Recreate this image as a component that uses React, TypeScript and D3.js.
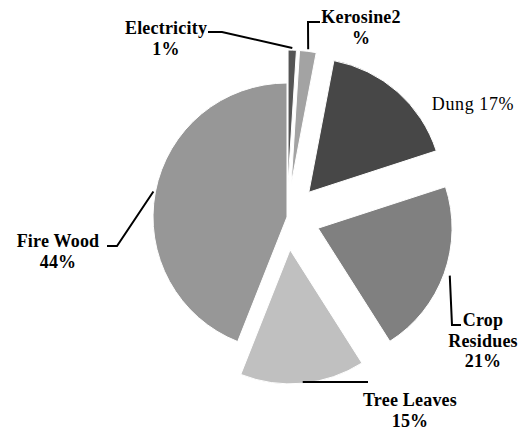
import React, { useEffect, useRef } from "react";
import * as d3 from "d3";

const categories = ["Electricity", "Kerosine", "Dung", "Crop Residues", "Tree Leaves", "Fire Wood"];
const values = [1, 2, 17, 21, 15, 44];
const colors = ["#555555", "#a3a3a3", "#474747", "#808080", "#c0c0c0", "#979797"];
const exploded = [true, true, true, true, true, false];

// label text lines, positions and leader elbows (anchor point comes from the arc)
const labels = [
  { lines: ["Electricity", "1%"], x: 166, y: 28, leader: [[222, 32], [208, 32]], r: 2 },
  { lines: ["Kerosine2", "%"], x: 361, y: 17, leader: [[308, 22], [320, 22]], r: 2 },
  { lines: ["Dung 17%"], x: 473, y: 104, leader: null, r: 0, normal: true },
  { lines: ["Crop", "Residues", "21%"], x: 483, y: 320, leader: [[452, 325], [461, 325]], r: 6 },
  { lines: ["Tree Leaves", "15%"], x: 410, y: 400, leader: [[368, 382]], r: 0 },
  { lines: ["Fire Wood", "44%"], x: 58, y: 241, leader: [[117, 246], [107, 246]], r: 2 },
];

const W = 522, H = 430;
const cx = 287, cy = 217, radius = 134, explode = 33;

export default function App() {
  const ref = useRef<SVGSVGElement>(null);

  useEffect(() => {
    const svg = d3.select(ref.current);
    svg.selectAll("*").remove();

    const pie = d3.pie<number>().sort(null).value(d => d);
    const arcs = pie(values);
    const arc = d3.arc<d3.PieArcDatum<number>>().innerRadius(0).outerRadius(radius);

    const offset = (d: d3.PieArcDatum<number>, i: number) => {
      const a = (d.startAngle + d.endAngle) / 2;
      const e = exploded[i] ? explode : 0;
      return [cx + Math.sin(a) * e, cy - Math.cos(a) * e];
    };

    const g = svg.append("g");
    g.selectAll("path")
      .data(arcs)
      .enter()
      .append("path")
      .attr("d", arc)
      .attr("transform", (d, i) => {
        const [x, y] = offset(d, i);
        return "translate(" + x + "," + y + ")";
      })
      .attr("fill", (d, i) => colors[i])
      .attr("stroke", "#fff")
      .attr("stroke-width", 1);

    // leader lines
    arcs.forEach((d, i) => {
      const lb = labels[i];
      if (!lb.leader) return;
      const a = (d.startAngle + d.endAngle) / 2;
      const [ox, oy] = offset(d, i);
      const rr = radius + lb.r;
      let pts: [number, number][] = [[ox + Math.sin(a) * rr, oy - Math.cos(a) * rr]];
      if (i === 4) pts[0] = [pts[0][0], lb.leader[0][1]];
      pts = pts.concat(lb.leader as [number, number][]);
      svg.append("path")
        .attr("d", d3.line()(pts))
        .attr("fill", "none")
        .attr("stroke", "#000")
        .attr("stroke-width", 2);
    });

    // labels
    labels.forEach(lb => {
      const t = svg.append("text")
        .attr("text-anchor", "middle")
        .style("font-family", "'Liberation Serif', 'Times New Roman', serif")
        .style("font-size", "18px")
        .style("font-weight", lb.normal ? "normal" : "bold")
        .style("letter-spacing", lb.normal ? "0.6px" : "0.2px")
        .attr("fill", "#000");
      lb.lines.forEach((s, k) => {
        t.append("tspan")
          .attr("x", lb.x)
          .attr("y", lb.y + k * 20.5)
          .attr("dy", "0.35em")
          .text(s);
      });
    });
  }, []);

  return (
    <svg ref={ref} width={W} height={H} style={{ position: "absolute", left: 0, top: 0, background: "#fff" }} />
  );
}
